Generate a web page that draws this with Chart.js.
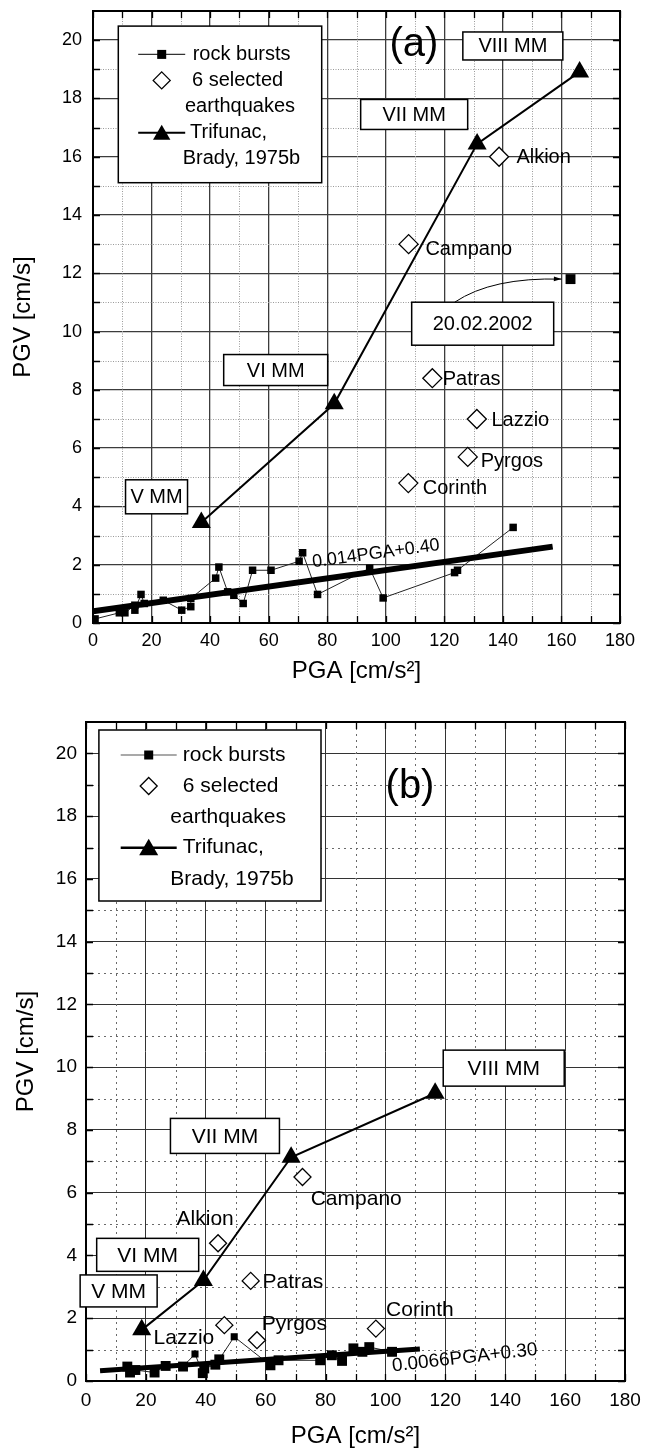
<!DOCTYPE html>
<html><head><meta charset="utf-8">
<script src="https://cdn.jsdelivr.net/npm/chart.js@4.4.1/dist/chart.umd.min.js"></script>
<style>
html,body{margin:0;padding:0;background:#fff;}
#wrap{position:relative;width:650px;height:1452px;background:#fff;}
canvas{position:absolute;left:0;}
#ca{top:0;}
#cb{top:700px;}
</style></head><body>
<div id="wrap"><canvas id="ca" width="650" height="700"></canvas><canvas id="cb" width="650" height="752"></canvas></div>
<script>
// ---------------- DATA ----------------
const xTickValues = [0, 20, 40, 60, 80, 100, 120, 140, 160, 180];
const yTickValues = [0, 2, 4, 6, 8, 10, 12, 14, 16, 18, 20];
const xMinorValues = [10, 30, 50, 70, 90, 110, 130, 150, 170];
const yMinorValues = [1, 3, 5, 7, 9, 11, 13, 15, 17, 19];
const xTitle = 'PGA [cm/s²]';
const yTitle = 'PGV [cm/s]';
const seriesNames = ['rock bursts', '6 selected', 'earthquakes', 'Trifunac,', 'Brady, 1975b'];
const quakeNames = ['Alkion', 'Campano', 'Patras', 'Lazzio', 'Pyrgos', 'Corinth'];
const mmNames = ['V MM', 'VI MM', 'VII MM', 'VIII MM'];

// panel (a)
const rockA_x = [0.7, 9.0, 10.9, 14.3, 14.3, 16.4, 17.5, 24.0, 30.3, 33.4, 33.4, 41.9, 43.0, 46.0, 48.1, 51.3, 54.5, 60.8, 70.4, 71.6, 76.7, 94.5, 99.1, 123.5, 124.5, 143.5];
const rockA_y = [0.14, 0.35, 0.35, 0.61, 0.44, 0.98, 0.67, 0.78, 0.44, 0.56, 0.84, 1.54, 1.92, 1.07, 0.95, 0.67, 1.81, 1.81, 2.12, 2.41, 0.98, 1.88, 0.86, 1.73, 1.81, 3.28];
const rockA_event_x = [163.1];
const rockA_event_y = [11.8];
const rockA_event_label = '20.02.2002';
const quakeA_x = [138.7, 107.8, 115.9, 131.1, 128.0, 107.7];
const quakeA_y = [16.0, 13.0, 8.4, 7.0, 5.7, 4.8];
const trifA_x = [37.0, 82.4, 131.2, 166.2];
const trifA_y = [3.45, 7.52, 16.44, 18.91];
const fitA_x = [0, 157];
const fitA_y = [0.40, 2.62];
const fitA_label = '0.014PGA+0.40';

// panel (b)
const rockB_x = [13.8, 14.7, 16.5, 22.9, 26.6, 32.4, 36.4, 39.0, 39.5, 43.2, 44.5, 49.5, 61.6, 64.3, 78.2, 82.1, 85.5, 89.3, 92.3, 94.6, 102.2];
const rockB_y = [0.46, 0.27, 0.35, 0.27, 0.48, 0.46, 0.86, 0.25, 0.40, 0.52, 0.69, 1.41, 0.50, 0.66, 0.66, 0.82, 0.64, 1.04, 0.93, 1.08, 0.93];
const quakeB_x = [44.1, 72.3, 55.0, 46.2, 57.1, 96.8];
const quakeB_y = [4.39, 6.5, 3.19, 1.78, 1.3, 1.67];
const trifB_x = [18.6, 39.2, 68.5, 116.6];
const trifB_y = [1.63, 3.2, 7.13, 9.17];
const fitB_x = [4.7, 111.5];
const fitB_y = [0.33, 1.02];
const fitB_label = '0.0066PGA+0.30';

// ---------------- LAYOUT / STYLE ----------------
const FONT = '"Liberation Sans", Arial, Helvetica, sans-serif';
Chart.defaults.font.family = FONT;
Chart.defaults.color = '#000';

const pts = (xs, ys) => xs.map((v, i) => ({x: v, y: ys[i]}));

const layoutA = {
  name: 'a', panel: '(a)', panelPos: [109.6, 19.83], panelFont: 40,
  minorColor: '#9a9a9a', minorDash: [1, 1.5], tickLen: 7,
  mmBoxes: [{cx: 21.7, cy: 4.33, w: 62, h: 34}, {cx: 62.4, cy: 8.68, w: 104, h: 31}, {cx: 109.7, cy: 17.45, w: 107, h: 30}, {cx: 143.4, cy: 19.8, w: 100, h: 28}],
  mmFont: 20,
  quakeOffsets: [[17.3, 0.6], [16.8, 5.5], [10.4, 1.5], [14.6, 1.4], [13, 5], [14.4, 5.6]],
  quakeFont: 20,
  fitLabel: {x: 75.1, y: 1.91, angle: -7.8, font: 18},
  dateBox: {cx: 133.1, cy: 10.27, w: 142, h: 43, font: 20, arrowDx: -28},
  legend: {x: 25.3, y: 15.1, w: 203.4, h: 156.6, symX: 68.7, lineHalf: 23.5,
    textX: [99.7, 99, 92, 97, 89.7], rows: [43.4, 69.4, 95.1, 121.7, 147.4], font: 20,
    sq: 4.5, dia: 8.5, tri: 10, rockLine: '#333', rockLineW: 1.2, trifLineW: 2},
  quakeX: quakeA_x, quakeY: quakeA_y
};
const layoutB = {
  name: 'b', panel: '(b)', panelPos: [108.2, 18.93], panelFont: 40,
  minorColor: '#6a6a6a', minorDash: [2, 4], tickLen: 7,
  mmBoxes: [{cx: 10.9, cy: 2.87, w: 77, h: 32}, {cx: 20.6, cy: 4.02, w: 102, h: 33}, {cx: 46.4, cy: 7.81, w: 109, h: 35}, {cx: 139.5, cy: 9.97, w: 121, h: 36}],
  mmFont: 21,
  quakeOffsets: [[-41.5, -24.2], [8.2, 22.3], [11.8, 1.8], [-70.8, 13.2], [4.7, -16.5], [10.2, -17.9]],
  quakeFont: 21,
  fitLabel: {x: 102.4, y: 0.30, angle: -6.6, font: 19},
  dateBox: null,
  legend: {x: 12.9, y: 8, w: 222.1, h: 171, symX: 62.7, lineHalf: 28,
    textX: [96.8, 96.8, 84.3, 96.8, 84.3], rows: [33, 64, 95.7, 125.7, 157.3], font: 21,
    sq: 4.5, dia: 8.5, tri: 11, rockLine: '#555', rockLineW: 1.2, trifLineW: 2.5},
  quakeX: quakeB_x, quakeY: quakeB_y
};

function drawTri(ctx, x, y, r) {
  ctx.beginPath();
  for (let k = 0; k < 3; k++) {
    const a = k * 2 * Math.PI / 3;
    const px = x + Math.sin(a) * r, py = y - Math.cos(a) * r;
    if (k === 0) ctx.moveTo(px, py); else ctx.lineTo(px, py);
  }
  ctx.closePath(); ctx.fillStyle = '#000'; ctx.fill();
}
function drawDia(ctx, x, y, r) {
  ctx.beginPath();
  ctx.moveTo(x, y - r); ctx.lineTo(x + r, y); ctx.lineTo(x, y + r); ctx.lineTo(x - r, y); ctx.closePath();
  ctx.fillStyle = '#fff'; ctx.fill(); ctx.strokeStyle = '#000'; ctx.lineWidth = 1.3; ctx.stroke();
}

function makeDecor(L) {
  return {
    id: 'decor_' + L.name,
    beforeDatasetsDraw(chart) {
      const {ctx, chartArea: a, scales: {x, y}} = chart;
      ctx.save();
      ctx.strokeStyle = L.minorColor; ctx.lineWidth = 1; ctx.setLineDash(L.minorDash);
      ctx.beginPath();
      xMinorValues.forEach(v => { const p = Math.round(x.getPixelForValue(v)) + 0.5; ctx.moveTo(p, a.top); ctx.lineTo(p, a.bottom); });
      yMinorValues.forEach(v => { const p = Math.round(y.getPixelForValue(v)) + 0.5; ctx.moveTo(a.left, p); ctx.lineTo(a.right, p); });
      ctx.stroke();
      ctx.setLineDash([]);
      ctx.strokeStyle = '#000'; ctx.lineWidth = 1.3;
      ctx.beginPath();
      xMinorValues.concat(xTickValues).forEach(v => {
        const p = Math.round(x.getPixelForValue(v)) + 0.5;
        ctx.moveTo(p, a.bottom); ctx.lineTo(p, a.bottom - L.tickLen);
        ctx.moveTo(p, a.top); ctx.lineTo(p, a.top + L.tickLen);
      });
      yMinorValues.concat(yTickValues).forEach(v => {
        const p = Math.round(y.getPixelForValue(v)) + 0.5;
        ctx.moveTo(a.left, p); ctx.lineTo(a.left + L.tickLen, p);
        ctx.moveTo(a.right, p); ctx.lineTo(a.right - L.tickLen, p);
      });
      ctx.stroke();
      ctx.lineWidth = 2;
      ctx.strokeRect(a.left, a.top, a.right - a.left, a.bottom - a.top);
      ctx.restore();
    },
    afterDatasetsDraw(chart) {
      const {ctx, chartArea: a, scales: {x, y}} = chart;
      ctx.save();
      ctx.fillStyle = '#000';
      ctx.textBaseline = 'middle';
      // panel letter
      ctx.font = L.panelFont + 'px ' + FONT; ctx.textAlign = 'center';
      ctx.fillText(L.panel, x.getPixelForValue(L.panelPos[0]), y.getPixelForValue(L.panelPos[1]));
      // MM boxes
      ctx.font = L.mmFont + 'px ' + FONT;
      L.mmBoxes.forEach((b, i) => {
        const cx = x.getPixelForValue(b.cx), cy = y.getPixelForValue(b.cy);
        ctx.fillStyle = '#fff'; ctx.fillRect(cx - b.w / 2, cy - b.h / 2, b.w, b.h);
        ctx.strokeStyle = '#000'; ctx.lineWidth = 1.5; ctx.strokeRect(cx - b.w / 2, cy - b.h / 2, b.w, b.h);
        ctx.fillStyle = '#000'; ctx.fillText(mmNames[i], cx, cy + 1);
      });
      // quake labels
      ctx.font = L.quakeFont + 'px ' + FONT; ctx.textAlign = 'left';
      quakeNames.forEach((n, i) => {
        const px = x.getPixelForValue(L.quakeX[i]), py = y.getPixelForValue(L.quakeY[i]);
        ctx.fillText(n, px + L.quakeOffsets[i][0], py + L.quakeOffsets[i][1]);
      });
      // fit label
      const fl = L.fitLabel;
      ctx.save();
      ctx.translate(x.getPixelForValue(fl.x), y.getPixelForValue(fl.y));
      ctx.rotate(fl.angle * Math.PI / 180);
      ctx.font = fl.font + 'px ' + FONT; ctx.textBaseline = 'alphabetic'; ctx.textAlign = 'left';
      ctx.fillText(L.name === 'a' ? fitA_label : fitB_label, 0, 0);
      ctx.restore();
      // date box + arrow
      if (L.dateBox) {
        const d = L.dateBox;
        const cx = x.getPixelForValue(d.cx), cy = y.getPixelForValue(d.cy);
        ctx.fillStyle = '#fff'; ctx.fillRect(cx - d.w / 2, cy - d.h / 2, d.w, d.h);
        ctx.strokeStyle = '#000'; ctx.lineWidth = 1.5; ctx.strokeRect(cx - d.w / 2, cy - d.h / 2, d.w, d.h);
        ctx.fillStyle = '#000'; ctx.font = d.font + 'px ' + FONT; ctx.textAlign = 'center';
        ctx.fillText(rockA_event_label, cx, cy + 1);
        const sx = cx + d.arrowDx, sy = cy - d.h / 2;
        const tx = x.getPixelForValue(rockA_event_x[0]) - 9, ty = y.getPixelForValue(rockA_event_y[0]);
        const qx = sx + (tx - sx) * 0.35, qy = ty - 2;
        ctx.lineWidth = 1; ctx.beginPath(); ctx.moveTo(sx, sy); ctx.quadraticCurveTo(qx, qy, tx, ty); ctx.stroke();
        const ang = Math.atan2(ty - qy, tx - qx);
        ctx.beginPath(); ctx.moveTo(tx, ty);
        ctx.lineTo(tx - 8 * Math.cos(ang - 0.3), ty - 8 * Math.sin(ang - 0.3));
        ctx.lineTo(tx - 8 * Math.cos(ang + 0.3), ty - 8 * Math.sin(ang + 0.3));
        ctx.closePath(); ctx.fill();
      }
      // legend
      const G = L.legend;
      const bx = a.left + G.x, by = a.top + G.y;
      ctx.fillStyle = '#fff'; ctx.fillRect(bx, by, G.w, G.h);
      ctx.strokeStyle = '#000'; ctx.lineWidth = 1.5; ctx.strokeRect(bx, by, G.w, G.h);
      const sx = a.left + G.symX;
      ctx.font = G.font + 'px ' + FONT; ctx.textAlign = 'left'; ctx.textBaseline = 'middle';
      // row 0: rock bursts
      let ry = a.top + G.rows[0];
      ctx.strokeStyle = G.rockLine; ctx.lineWidth = G.rockLineW;
      ctx.beginPath(); ctx.moveTo(sx - G.lineHalf, ry); ctx.lineTo(sx + G.lineHalf, ry); ctx.stroke();
      ctx.fillStyle = '#000'; ctx.fillRect(sx - G.sq, ry - G.sq, 2 * G.sq, 2 * G.sq);
      ctx.fillText(seriesNames[0], a.left + G.textX[0], ry);
      // row 1,2: earthquakes
      ry = a.top + G.rows[1];
      drawDia(ctx, sx, ry, G.dia);
      ctx.fillStyle = '#000';
      ctx.fillText(seriesNames[1], a.left + G.textX[1], ry);
      ctx.fillText(seriesNames[2], a.left + G.textX[2], a.top + G.rows[2]);
      // row 3,4: Trifunac
      ry = a.top + G.rows[3];
      ctx.strokeStyle = '#000'; ctx.lineWidth = G.trifLineW;
      ctx.beginPath(); ctx.moveTo(sx - G.lineHalf, ry); ctx.lineTo(sx + G.lineHalf, ry); ctx.stroke();
      drawTri(ctx, sx, ry + 2, G.tri);
      ctx.fillText(seriesNames[3], a.left + G.textX[3], ry);
      ctx.fillText(seriesNames[4], a.left + G.textX[4], a.top + G.rows[4]);
      ctx.restore();
    }
  };
}

function axisOpts(cfg) {
  return {
    x: {
      type: 'linear', min: 0, max: 180,
      afterFit: s => { s.height = cfg.xH; s.paddingLeft = 0; s.paddingRight = 0; },
      afterBuildTicks: s => { s.ticks = xTickValues.map(v => ({value: v})); },
      ticks: {autoSkip: false, maxRotation: 0, padding: cfg.xPad, color: '#000', font: {size: cfg.tickFont, family: FONT}},
      grid: {color: cfg.gridColor, lineWidth: cfg.gridW, drawTicks: false},
      border: {display: false},
      title: {display: true, text: xTitle, color: '#000', font: {size: 24, family: FONT}, padding: {top: 0, bottom: cfg.xTitlePad}}
    },
    y: {
      type: 'linear', min: 0, max: 21,
      afterFit: s => { s.width = cfg.yW; s.paddingTop = 0; s.paddingBottom = 0; },
      afterBuildTicks: s => { s.ticks = yTickValues.map(v => ({value: v})); },
      ticks: {autoSkip: false, padding: cfg.yPad, color: '#000', font: {size: cfg.tickFont, family: FONT}},
      grid: {color: cfg.gridColor, lineWidth: cfg.gridW, drawTicks: false},
      border: {display: false},
      title: {display: true, text: yTitle, color: '#000', font: {size: 24, family: FONT}, padding: {top: cfg.yTitlePad, bottom: 0}}
    }
  };
}

function datasets(rx, ry, rRadius, ex, ey, qx, qy, qr, tx, ty, fx, fy, fitW, triR) {
  const ds = [
    {label: 'fit', data: pts(fx, fy), showLine: true, borderColor: '#000', borderWidth: fitW, pointRadius: 0, order: 0},
    {label: 'rock bursts', data: pts(rx, ry), showLine: true, borderColor: '#222', borderWidth: 1, pointStyle: 'rect', pointRadius: rRadius, backgroundColor: '#000', pointBorderWidth: 0, order: 2},
    {label: '6 selected earthquakes', data: pts(qx, qy), showLine: false, pointStyle: 'rectRot', pointRadius: qr, backgroundColor: '#fff', borderColor: '#000', pointBorderWidth: 1.3, order: 1},
    {label: 'Trifunac, Brady, 1975b', data: pts(tx, ty), showLine: true, borderColor: '#000', borderWidth: 2, pointStyle: 'triangle', pointRadius: triR, backgroundColor: '#000', pointBorderWidth: 0, order: 1}
  ];
  if (ex) ds.push({label: 'event', data: pts(ex, ey), showLine: false, pointStyle: 'rect', pointRadius: 7, backgroundColor: '#000', pointBorderWidth: 0, order: 2});
  return ds;
}

const common = {
  responsive: false, animation: false, events: [],
  plugins: {legend: {display: false}, tooltip: {enabled: false}},
  elements: {line: {tension: 0}}
};

new Chart(document.getElementById('ca'), {
  type: 'scatter',
  data: {datasets: datasets(rockA_x, rockA_y, 5.3, rockA_event_x, rockA_event_y, quakeA_x, quakeA_y, 9.5, trifA_x, trifA_y, fitA_x, fitA_y, 6, 11)},
  options: Object.assign({}, common, {
    layout: {padding: {left: 0, right: 30, top: 6.6, bottom: 0}},
    scales: axisOpts({xH: 77, yW: 93, xPad: 7, yPad: 11, tickFont: 18, gridColor: '#3c3c3c', gridW: 1.3, xTitlePad: 14, yTitlePad: 9})
  }),
  plugins: [makeDecor(layoutA)]
});

const rockB_radius = rockB_x.map((v, i) => (i === 6 || i === 11) ? 5 : 7);
new Chart(document.getElementById('cb'), {
  type: 'scatter',
  data: {datasets: datasets(rockB_x, rockB_y, rockB_radius, null, null, quakeB_x, quakeB_y, 8.5, trifB_x, trifB_y, fitB_x, fitB_y, 5, 11)},
  options: Object.assign({}, common, {
    layout: {padding: {left: 0, right: 25, top: 22, bottom: 0}},
    scales: axisOpts({xH: 71, yW: 86, xPad: 8, yPad: 9, tickFont: 19, gridColor: '#333', gridW: 1, xTitlePad: 1, yTitlePad: 12})
  }),
  plugins: [makeDecor(layoutB)]
});
</script>
</body></html>
